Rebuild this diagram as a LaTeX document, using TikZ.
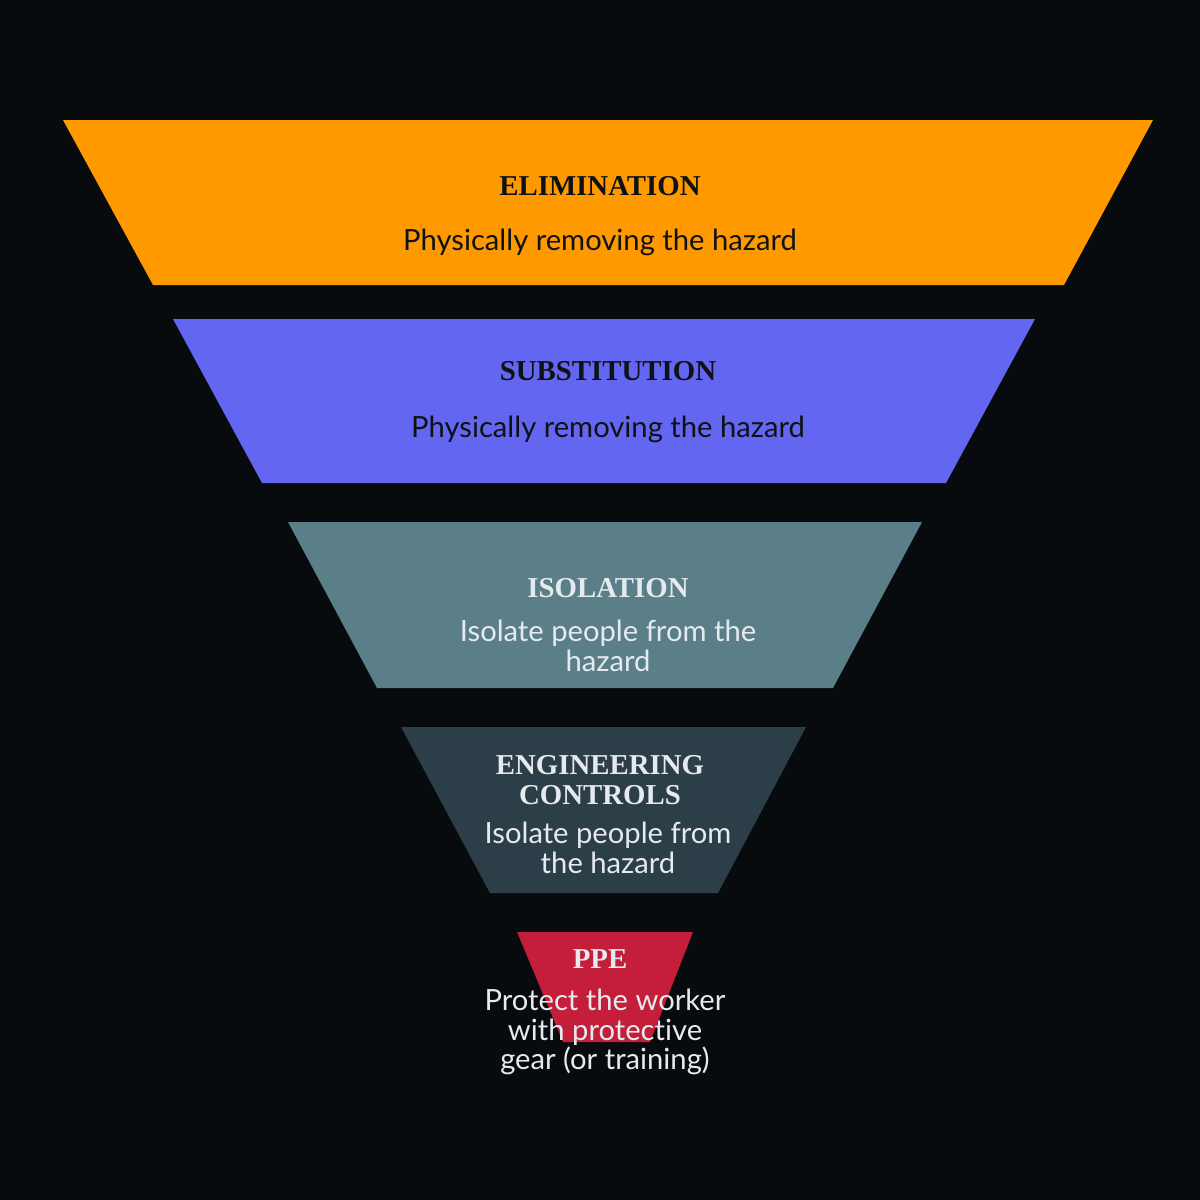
\documentclass[tikz,border=0pt]{standalone}
\usepackage{fontspec}
\setmainfont{Lato}[Ligatures=NoCommon]
\newfontfamily\headfont{Liberation Serif}
\usetikzlibrary{positioning}

\definecolor{bgdark}{HTML}{080B0E}
\definecolor{elimcol}{HTML}{FF9900}
\definecolor{substcol}{HTML}{6366F1}
\definecolor{isolcol}{HTML}{5A7F89}
\definecolor{engcol}{HTML}{2C3E47}
\definecolor{ppecol}{HTML}{C41E3A}
\definecolor{darktext}{HTML}{0F1214}
\definecolor{lighttext}{HTML}{E6EAEE}

\tikzset{
  head/.style={font=\headfont\bfseries\fontsize{8.2}{8.5}\selectfont,
    align=center, inner sep=0pt},
  body/.style={font=\fontsize{8.3}{8.4}\selectfont,
    align=center, inner sep=0pt},
}

\begin{document}
\begin{tikzpicture}[x=0.01cm, y=-0.01cm]
\fill[bgdark] (0,0) rectangle (1200,1200);
\useasboundingbox (0,0) rectangle (1200,1200);

% levels: colour / top y / bottom y / top left / top right / bottom left / bottom right
\foreach \col/\ya/\yb/\xa/\xb/\xc/\xd in {
  elimcol/120/285/63/1153/153/1064,
  substcol/319/483/173/1035/262/946,
  isolcol/522/688/288/922/377/833,
  engcol/727/893/401/806/490/718,
  ppecol/932/1042/517/693/563/650}
  \fill[\col] (\xa,\ya) -- (\xb,\ya) -- (\xd,\yb) -- (\xc,\yb) -- cycle;

\node[head, text=darktext] (elimhead) at (600,186) {ELIMINATION};
\node[body, text=darktext] (elimbody) at (600,242) {Physically removing the hazard};

\node[head, text=darktext] (substhead) at (608,371) {SUBSTITUTION};
\node[body, text=darktext] (substbody) at (608,429) {Physically removing the hazard};

\node[head, text=lighttext] (isolhead) at (608,588) {ISOLATION};
\node[body, text=lighttext] (isolbody) at (608,646) {Isolate people from the\\hazard};

\node[head, text=lighttext] (enghead) at (600,780) {ENGINEERING\\CONTROLS};
\node[body, text=lighttext] (engbody) at (608,848) {Isolate people from\\the hazard};

\node[head, text=lighttext] (ppehead) at (600,959) {PPE};
\node[body, text=lighttext] (ppebody) at (605,1032) {Protect the worker\\with protective\\gear (or training)};
\end{tikzpicture}
\end{document}
